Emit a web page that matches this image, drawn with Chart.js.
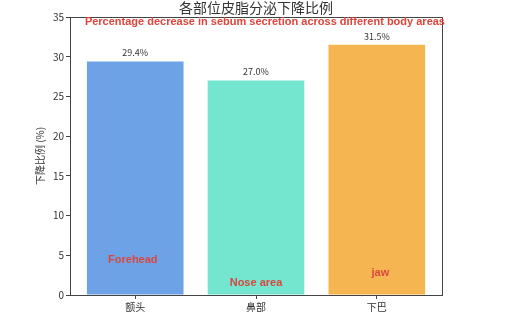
<!DOCTYPE html>
<html><head><meta charset="utf-8">
<script src="https://cdn.jsdelivr.net/npm/chart.js@4/dist/chart.umd.min.js"></script>
<style>html,body{margin:0;padding:0;background:#fff}#wrap{width:512px;height:316px}</style>
</head><body><div id="wrap"><canvas id="c" width="512" height="316"></canvas></div>
<script>
const categories = ['额头', '鼻部', '下巴'];
const values = [29.4, 27.0, 31.5];
const englishLabels = ['Forehead', 'Nose area', 'jaw'];
const labelHeights = [4.4, 1.5, 2.8];
const labelOffsets = [-0.02, 0, 0.03];
const yTicks = [0, 5, 10, 15, 20, 25, 30, 35];
const colors = ['#6DA3E6', '#74E6CF', '#F5B651'];
const chartTitle = '各部位皮脂分泌下降比例';
const subtitle = 'Percentage decrease in sebum secretion across different body areas';
const yTitle = '下降比例 (%)';

const FONT = "'Noto Sans CJK SC', 'DejaVu Sans', sans-serif";
const LATIN = "'Liberation Sans', Arial, sans-serif";

const overlay = {
  id: 'overlay',
  afterDatasetsDraw(chart) {
    const ctx = chart.ctx;
    const a = chart.chartArea;
    const xs = chart.scales.x, ys = chart.scales.y;
    ctx.save();
    ctx.strokeStyle = '#444';
    ctx.lineWidth = 1;
    ctx.beginPath();
    ctx.moveTo(a.left, a.top + 0.5); ctx.lineTo(a.right + 0.5, a.top + 0.5); ctx.lineTo(a.right + 0.5, a.bottom);
    ctx.stroke();
    const meta = chart.getDatasetMeta(0);
    ctx.fillStyle = '#333';
    ctx.font = '9px ' + FONT;
    ctx.textAlign = 'center';
    ctx.textBaseline = 'bottom';
    meta.data.forEach((bar, i) => {
      ctx.fillText(values[i].toFixed(1) + '%', bar.x, bar.y - 4);
    });
    ctx.font = 'bold 11px ' + LATIN;
    ctx.textBaseline = 'middle';
    englishLabels.forEach((t, i) => {
      ctx.fillStyle = '#D9473F';
      ctx.fillText(t, xs.getPixelForValue(i + labelOffsets[i]), ys.getPixelForValue(labelHeights[i]));
    });
    ctx.fillStyle = '#E0443A';
    ctx.font = 'bold 11px ' + LATIN;
    ctx.fillText(subtitle, xs.getPixelForValue(1.074), ys.getPixelForValue(34.4));
    ctx.fillStyle = '#333';
    ctx.font = '14px ' + FONT;
    ctx.fillText(chartTitle, (a.left + a.right) / 2, 8);
    ctx.restore();
  }
};

new Chart(document.getElementById('c'), {
  type: 'bar',
  data: {
    datasets: [{
      data: values.map((v, i) => ({ x: i, y: v })),
      backgroundColor: colors,
      borderWidth: 0,
      categoryPercentage: 0.8,
      barPercentage: 1.0
    }]
  },
  options: {
    responsive: false,
    animation: false,
    layout: { padding: { left: 34, top: 17, right: 70, bottom: 0 } },
    plugins: { legend: { display: false }, tooltip: { enabled: false }, title: { display: false } },
    scales: {
      x: {
        type: 'linear',
        min: -0.54, max: 2.54,
        offset: false,
        afterBuildTicks(s) { s.ticks = categories.map((c, i) => ({ value: i })); },
        afterFit(s) { s.height = 21; },
        ticks: {
          callback: (v) => categories[v],
          color: '#333', font: { family: FONT, size: 10 }, padding: 2, maxRotation: 0, autoSkip: false
        },
        grid: { drawOnChartArea: false, drawTicks: true, tickLength: 4, color: '#444', offset: false },
        border: { display: true, color: '#444', width: 1 }
      },
      y: {
        min: 0, max: 35,
        afterBuildTicks(s) { s.ticks = yTicks.map(v => ({ value: v })); },
        afterFit(s) { s.width = 36; },
        ticks: { color: '#333', font: { family: FONT, size: 10 }, padding: 2 },
        grid: { drawOnChartArea: false, drawTicks: true, tickLength: 4, color: '#444' },
        border: { display: true, color: '#444', width: 1 },
        title: { display: true, text: yTitle, color: '#333', font: { family: FONT, size: 10 }, padding: 0 }
      }
    }
  },
  plugins: [overlay]
});
</script></body></html>
